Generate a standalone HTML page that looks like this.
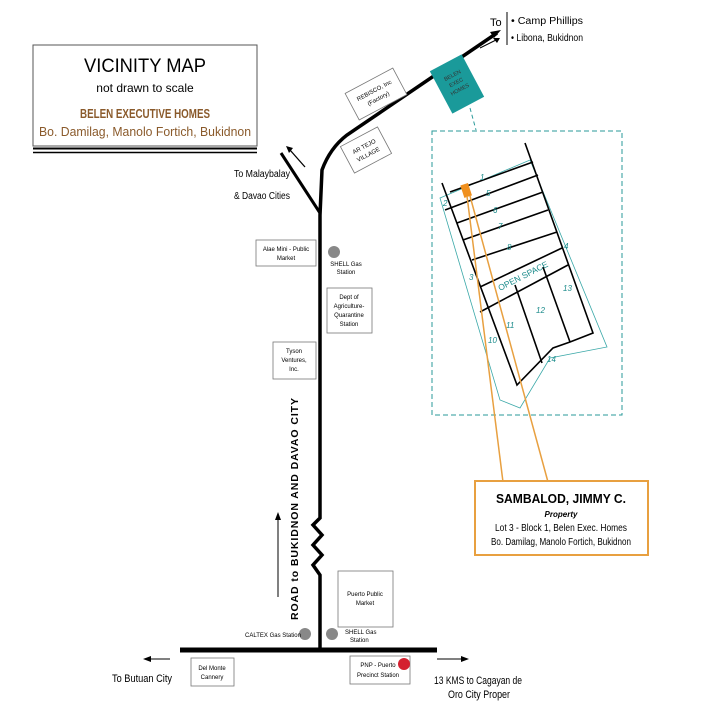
<!DOCTYPE html>
<html><head><meta charset="utf-8"><style>
body{margin:0;background:#fff}
svg{display:block}
text{font-family:"Liberation Sans",sans-serif}
</style></head><body>
<svg width="720" height="720" viewBox="0 0 720 720" xmlns="http://www.w3.org/2000/svg">
<rect width="720" height="720" fill="#fff"/>
<!-- title box -->
<rect x="33" y="45" width="224" height="101" fill="#fff" stroke="#555" stroke-width="1"/>
<line x1="33" y1="148.5" x2="257" y2="148.5" stroke="#000" stroke-width="2"/>
<line x1="33" y1="152.5" x2="257" y2="152.5" stroke="#000" stroke-width="1.5"/>
<text x="145" y="72" font-size="19" text-anchor="middle" textLength="122" lengthAdjust="spacingAndGlyphs">VICINITY MAP</text>
<text x="145" y="92" font-size="12" text-anchor="middle">not drawn to scale</text>
<text x="145" y="118" font-size="13" font-weight="bold" fill="#8a5a2b" text-anchor="middle" textLength="130" lengthAdjust="spacingAndGlyphs">BELEN EXECUTIVE HOMES</text>
<text x="145" y="136" font-size="13" fill="#8a5a2b" text-anchor="middle" textLength="212" lengthAdjust="spacingAndGlyphs">Bo. Damilag, Manolo Fortich, Bukidnon</text>

<!-- roads -->
<path d="M320,650 L320,575 L313,565 L322,555 L313,545 L322,535 L313,525 L320,518 L320,215 L322,170 Q330,148 347,135 L497,33" fill="none" stroke="#000" stroke-width="3.5"/>
<polygon points="501,30 490,32 494,38" fill="#000"/>
<line x1="320" y1="213" x2="281" y2="153" stroke="#000" stroke-width="3"/>
<line x1="305" y1="167" x2="290" y2="150" stroke="#000" stroke-width="1.3"/>
<polygon points="286,146 293,148 289,153" fill="#000"/>
<line x1="180" y1="650" x2="437" y2="650" stroke="#000" stroke-width="5"/>
<!-- upper-right arrow & legend -->
<line x1="480" y1="48" x2="496" y2="40" stroke="#000" stroke-width="1"/>
<polygon points="500,38 493,38 497,43" fill="#000"/>
<text x="490" y="26" font-size="11">To</text>
<line x1="507" y1="12" x2="507" y2="45" stroke="#000" stroke-width="1"/>
<text x="511" y="24" font-size="10" textLength="72" lengthAdjust="spacingAndGlyphs">• Camp Phillips</text>
<text x="511" y="41" font-size="10" textLength="72" lengthAdjust="spacingAndGlyphs">• Libona, Bukidnon</text>

<!-- rotated boxes -->
<g transform="translate(376,94) rotate(-28)">
<rect x="-27" y="-15" width="54" height="30" fill="#fff" stroke="#777" stroke-width="0.8"/>
<text x="0" y="-2" font-size="6" text-anchor="middle">REBISCO, Inc</text>
<text x="0" y="7" font-size="6" text-anchor="middle">(Factory)</text>
</g>
<g transform="translate(366,150) rotate(-28)">
<rect x="-21" y="-15" width="42" height="30" fill="#fff" stroke="#777" stroke-width="0.8"/>
<text x="0" y="-2" font-size="6" text-anchor="middle">AR TEJO</text>
<text x="0" y="7" font-size="6" text-anchor="middle">VILLAGE</text>
</g>
<g transform="translate(457,84) rotate(-28)">
<rect x="-18" y="-24" width="36" height="48" fill="#1a9a9a"/>
<text x="0" y="-8" font-size="5.5" text-anchor="middle" fill="#333">BELEN</text>
<text x="0" y="0" font-size="5.5" text-anchor="middle" fill="#333">EXEC</text>
<text x="0" y="8" font-size="5.5" text-anchor="middle" fill="#333">HOMES</text>
</g>
<line x1="470" y1="108" x2="476" y2="130" stroke="#2a9a9a" stroke-width="1" stroke-dasharray="4,3"/>

<!-- dashed inset -->
<rect x="432" y="131" width="190" height="284" fill="none" stroke="#2a9a9a" stroke-width="1" stroke-dasharray="5,3"/>
<!-- cyan outline -->
<polygon points="440,198 530,160 607,347 550,358 520,408 500,400" fill="none" stroke="#3aa8a8" stroke-width="0.8"/>
<!-- lot lines -->
<g stroke="#000" stroke-width="1.6" fill="none">
<polyline points="442,183 517,385 553,348 570,342 593,333 525,143"/>
<line x1="450" y1="192" x2="533" y2="162"/>
<line x1="445" y1="210" x2="538" y2="175"/>
<line x1="457" y1="223" x2="543" y2="192"/>
<line x1="463" y1="240" x2="548" y2="210"/>
<line x1="472" y1="260" x2="557" y2="232"/>
<line x1="480" y1="287" x2="562" y2="248"/>
<line x1="480" y1="312" x2="568" y2="265"/>
<line x1="515" y1="285" x2="542" y2="363"/>
<line x1="543" y1="267" x2="570" y2="342"/>
</g>
<rect x="462" y="184" width="8" height="13" fill="#f0901e" transform="rotate(-18 466 190)"/>
<g fill="#1a8a8a" font-size="8" font-style="italic">
<text x="480" y="180">1</text><text x="486" y="196">5</text><text x="493" y="213">6</text>
<text x="498" y="229">7</text><text x="507" y="250">8</text>
<text x="443" y="206">2</text><text x="469" y="280">3</text><text x="564" y="249">4</text>
<text x="563" y="291">13</text><text x="536" y="313">12</text><text x="506" y="328">11</text>
<text x="488" y="343">10</text><text x="547" y="362">14</text>
<text x="500" y="291" font-size="8.5" transform="rotate(-27 500 291)" font-style="normal">OPEN SPACE</text>
</g>
<!-- orange leaders -->
<line x1="467" y1="196" x2="503" y2="482" stroke="#e8a040" stroke-width="1.5"/>
<line x1="470" y1="196" x2="548" y2="482" stroke="#e8a040" stroke-width="1.5"/>
<rect x="475" y="481" width="173" height="74" fill="#fff" stroke="#e8a040" stroke-width="2"/>
<text x="561" y="503" font-size="13" font-weight="bold" text-anchor="middle" textLength="130" lengthAdjust="spacingAndGlyphs">SAMBALOD, JIMMY C.</text>
<text x="561" y="517" font-size="8" font-weight="bold" font-style="italic" text-anchor="middle">Property</text>
<text x="561" y="531" font-size="10" text-anchor="middle" textLength="132" lengthAdjust="spacingAndGlyphs">Lot 3 - Block 1, Belen Exec. Homes</text>
<text x="561" y="545" font-size="10" text-anchor="middle" textLength="140" lengthAdjust="spacingAndGlyphs">Bo. Damilag, Manolo Fortich, Bukidnon</text>

<!-- left labels -->
<text x="234" y="177" font-size="10" textLength="56" lengthAdjust="spacingAndGlyphs">To Malaybalay</text>
<text x="234" y="199" font-size="10" textLength="56" lengthAdjust="spacingAndGlyphs">&amp; Davao Cities</text>
<rect x="256" y="240" width="60" height="26" fill="#fff" stroke="#777" stroke-width="0.8"/>
<text x="286" y="251" font-size="6" text-anchor="middle">Alae Mini - Public</text>
<text x="286" y="260" font-size="6" text-anchor="middle">Market</text>
<circle cx="334" cy="252" r="6" fill="#888"/>
<text x="346" y="266" font-size="6" text-anchor="middle">SHELL Gas</text>
<text x="346" y="274" font-size="6" text-anchor="middle">Station</text>
<rect x="327" y="288" width="45" height="45" fill="#fff" stroke="#777" stroke-width="0.8"/>
<text x="349" y="299" font-size="6" text-anchor="middle">Dept of</text>
<text x="349" y="308" font-size="6" text-anchor="middle">Agriculture-</text>
<text x="349" y="317" font-size="6" text-anchor="middle">Quarantine</text>
<text x="349" y="326" font-size="6" text-anchor="middle">Station</text>
<rect x="273" y="342" width="43" height="37" fill="#fff" stroke="#777" stroke-width="0.8"/>
<text x="294" y="353" font-size="6" text-anchor="middle">Tyson</text>
<text x="294" y="362" font-size="6" text-anchor="middle">Ventures,</text>
<text x="294" y="371" font-size="6" text-anchor="middle">Inc.</text>

<!-- road label -->
<text x="0" y="0" font-size="10.5" font-weight="bold" transform="translate(298,620) rotate(-90)" textLength="222" lengthAdjust="spacing">ROAD to BUKIDNON AND DAVAO CITY</text>
<line x1="278" y1="597" x2="278" y2="518" stroke="#000" stroke-width="1"/>
<polygon points="278,512 275,520 281,520" fill="#000"/>

<!-- bottom -->
<rect x="338" y="571" width="55" height="56" fill="#fff" stroke="#777" stroke-width="0.8"/>
<text x="365" y="596" font-size="6" text-anchor="middle">Puerto Public</text>
<text x="365" y="605" font-size="6" text-anchor="middle">Market</text>
<circle cx="305" cy="634" r="6" fill="#888"/>
<circle cx="332" cy="634" r="6" fill="#888"/>
<text x="245" y="637" font-size="6">CALTEX Gas Station</text>
<text x="345" y="634" font-size="6">SHELL Gas</text>
<text x="350" y="642" font-size="6">Station</text>
<rect x="191" y="658" width="43" height="28" fill="#fff" stroke="#777" stroke-width="0.8"/>
<text x="212" y="670" font-size="6" text-anchor="middle">Del Monte</text>
<text x="212" y="679" font-size="6" text-anchor="middle">Cannery</text>
<rect x="350" y="656" width="60" height="28" fill="#fff" stroke="#777" stroke-width="0.8"/>
<text x="378" y="667" font-size="6" text-anchor="middle">PNP - Puerto</text>
<text x="378" y="677" font-size="6" text-anchor="middle">Precinct Station</text>
<circle cx="404" cy="664" r="6" fill="#d42030"/>
<line x1="150" y1="659" x2="170" y2="659" stroke="#000" stroke-width="1"/>
<polygon points="143,659 151,656 151,662" fill="#000"/>
<line x1="437" y1="659" x2="462" y2="659" stroke="#000" stroke-width="1"/>
<polygon points="469,659 461,656 461,662" fill="#000"/>
<text x="112" y="682" font-size="11" textLength="60" lengthAdjust="spacingAndGlyphs">To Butuan  City</text>
<text x="434" y="684" font-size="11" textLength="88" lengthAdjust="spacingAndGlyphs">13 KMS to  Cagayan de</text>
<text x="448" y="698" font-size="11" textLength="62" lengthAdjust="spacingAndGlyphs">Oro City Proper</text>
</svg>
</body></html>
